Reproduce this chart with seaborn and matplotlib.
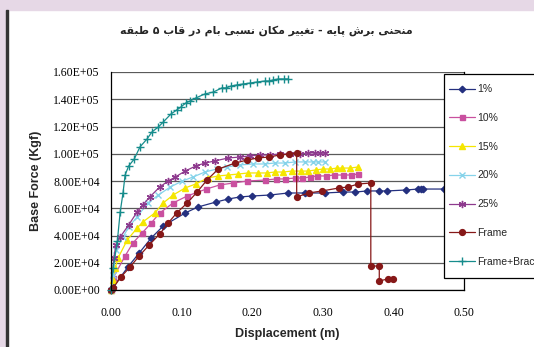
import matplotlib
matplotlib.use('Agg')

import pandas as pd
import matplotlib.pyplot as plt
import matplotlib.patches as mpatches
import seaborn as sns

# values
x_1 = [0, 0.003, 0.024, 0.040, 0.057, 0.074, 0.105, 0.123, 0.149, 0.166, 0.183, 0.200, 0.225, 0.251,
       0.275, 0.303, 0.329, 0.346, 0.363, 0.380, 0.391, 0.418, 0.435, 0.439, 0.442, 0.472, 0.492]
y_1 = [0, 2200, 16900, 27200, 38200, 47000, 56500, 60900, 64600, 66800, 68300, 69000, 69700, 71200,
       71200, 71200, 71900, 71900, 72700, 72700, 72700, 73400, 74100, 74100, 74100, 74100, 74900]

x_10 = [0, 0.003, 0.020, 0.031, 0.044, 0.057, 0.069, 0.088, 0.108, 0.135, 0.154, 0.173, 0.193, 0.218,
        0.234, 0.246, 0.261, 0.271, 0.282, 0.292, 0.305, 0.316, 0.329, 0.340, 0.350]
y_10 = [0, 8800, 25000, 34500, 41800, 49200, 56500, 63900, 69000, 74100, 77100, 78500, 80000, 80700,
        81500, 81500, 82200, 82200, 82900, 83700, 83700, 84400, 84400, 84400, 85100]

x_15 = [0, 0.003, 0.006, 0.010, 0.023, 0.037, 0.045, 0.062, 0.074, 0.088, 0.105, 0.120, 0.137, 0.152,
        0.166, 0.180, 0.194, 0.208, 0.221, 0.232, 0.244, 0.256, 0.269, 0.279, 0.290, 0.300, 0.310,
        0.320, 0.327, 0.339, 0.350]
y_15 = [0, 7300, 16100, 23500, 36700, 45500, 49900, 56500, 63900, 69700, 74900, 77800, 82200, 83700,
        84400, 85100, 85900, 85900, 85900, 86600, 86600, 87300, 87300, 87300, 88100, 88800, 88800,
        89500, 89500, 89500, 90300]

x_20 = [0, 0.003, 0.007, 0.017, 0.025, 0.037, 0.052, 0.067, 0.084, 0.101, 0.116, 0.133, 0.150, 0.164,
        0.183, 0.201, 0.218, 0.232, 0.246, 0.261, 0.275, 0.286, 0.293, 0.303]
y_20 = [0, 11000, 29400, 38900, 46200, 53600, 63900, 69700, 75600, 80000, 82900, 86600, 88800, 90300,
        91800, 92500, 92500, 93200, 93200, 94000, 94000, 94000, 94000, 94000]

x_25 = [0, 0.004, 0.007, 0.013, 0.025, 0.037, 0.045, 0.055, 0.069, 0.081, 0.091, 0.105, 0.120, 0.133,
        0.147, 0.166, 0.183, 0.197, 0.211, 0.225, 0.239, 0.254, 0.268, 0.279, 0.289, 0.296, 0.303]
y_25 = [0, 23500, 33000, 38900, 47700, 57300, 62400, 68300, 75600, 80000, 82900, 87300, 91000, 93200,
        94700, 96900, 97600, 98400, 99100, 99100, 99800, 99800, 99800, 100600, 100600, 100600, 100600]

x_frame = [0, 0.003, 0.014, 0.027, 0.040, 0.054, 0.069, 0.081, 0.093, 0.108, 0.122, 0.136, 0.152, 0.176,
           0.193, 0.208, 0.224, 0.239, 0.252, 0.263, 0.263, 0.280, 0.299, 0.323, 0.336, 0.350, 0.368,
           0.368, 0.380, 0.380, 0.392, 0.399]
y_frame = [0, 1500, 9500, 16900, 25000, 33000, 41100, 49200, 56500, 63900, 71900, 80700, 88800, 93200,
           95400, 96900, 97600, 99100, 99800, 100600, 68300, 71200, 72700, 74900, 75600, 77800, 78500,
           17600, 17600, 6600, 8100, 8100]

x_brace = [0, 0.003, 0.009, 0.013, 0.017, 0.020, 0.025, 0.033, 0.041, 0.051, 0.058, 0.067, 0.074, 0.085,
           0.093, 0.099, 0.106, 0.112, 0.120, 0.133, 0.145, 0.157, 0.163, 0.170, 0.178, 0.187, 0.197,
           0.207, 0.218, 0.224, 0.229, 0.237, 0.245, 0.251]
y_brace = [0, 16100, 36000, 57200, 71200, 84400, 91000, 96200, 105000, 110800, 116000, 119600, 123300,
           129200, 132100, 134300, 137300, 138700, 140900, 143900, 145300, 148300, 148300, 149700,
           150500, 151200, 151900, 152700, 153400, 153400, 154100, 154900, 154900, 154900]

x_ticks = [0.0, 0.1, 0.2, 0.3, 0.4, 0.5]
y_ticks = [0, 20000, 40000, 60000, 80000, 100000, 120000, 140000, 160000]

title = 'منحنی برش پایه - تغییر مکان نسبی بام در قاب ۵ طبقه'

# (name, x, y, colour, marker, size)
series = [
    ('1%', x_1, y_1, '#24307f', 'D', 3.3),
    ('10%', x_10, y_10, '#c9509f', 's', 3.6),
    ('15%', x_15, y_15, '#f5e600', '^', 4.6),
    ('20%', x_20, y_20, '#86d3ea', 'x', 4.2),
    ('25%', x_25, y_25, '#8e3a8e', (6, 2, 0), 5.2),
    ('Frame', x_frame, y_frame, '#861818', 'o', 4.2),
    ('Frame+Brace', x_brace, y_brace, '#168c8c', '+', 5.5),
]

# matplotlib does no arabic shaping, so pick the joined glyph forms by hand
forms = {
    'ا': ('\uFE8D', '\uFE8E', None, None),
    'ب': ('\uFE8F', '\uFE90', '\uFE91', '\uFE92'),
    'پ': ('\uFB56', '\uFB57', '\uFB58', '\uFB59'),
    'ت': ('\uFE95', '\uFE96', '\uFE97', '\uFE98'),
    'ح': ('\uFEA1', '\uFEA2', '\uFEA3', '\uFEA4'),
    'د': ('\uFEA9', '\uFEAA', None, None),
    'ر': ('\uFEAD', '\uFEAE', None, None),
    'س': ('\uFEB1', '\uFEB2', '\uFEB3', '\uFEB4'),
    'ش': ('\uFEB5', '\uFEB6', '\uFEB7', '\uFEB8'),
    'ط': ('\uFEC1', '\uFEC2', '\uFEC3', '\uFEC4'),
    'غ': ('\uFECD', '\uFECE', '\uFECF', '\uFED0'),
    'ق': ('\uFED5', '\uFED6', '\uFED7', '\uFED8'),
    'ک': ('\uFB8E', '\uFB8F', '\uFB90', '\uFB91'),
    'م': ('\uFEE1', '\uFEE2', '\uFEE3', '\uFEE4'),
    'ن': ('\uFEE5', '\uFEE6', '\uFEE7', '\uFEE8'),
    'ه': ('\uFEE9', '\uFEEA', '\uFEEB', '\uFEEC'),
    'ی': ('\uFBFC', '\uFBFD', '\uFBFE', '\uFBFF'),
}


def shape_rtl(text):
    out = []
    for i, ch in enumerate(text):
        if ch not in forms:
            out.append(ch)
            continue
        prev = text[i - 1] if i > 0 else ''
        nxt = text[i + 1] if i + 1 < len(text) else ''
        join_prev = prev in forms and forms[prev][2] is not None
        join_next = nxt in forms and forms[ch][2] is not None
        iso, fin, ini, med = forms[ch]
        if join_prev and join_next:
            out.append(med)
        elif join_prev:
            out.append(fin)
        elif join_next:
            out.append(ini)
        else:
            out.append(iso)
    return ''.join(out)[::-1]


sns.set_style('white')
plt.rcParams['font.family'] = ['Liberation Serif', 'DejaVu Sans']

fig = plt.figure(figsize=(5.34, 3.47), dpi=100)

# lavender frame strips of the original screenshot
fig.patches.append(mpatches.Rectangle((0, 0), 6 / 534, 1, transform=fig.transFigure,
                                      color='#e6d8e6', zorder=0))
fig.patches.append(mpatches.Rectangle((0, 1 - 10 / 347), 1, 10 / 347, transform=fig.transFigure,
                                      color='#e6d8e6', zorder=0))
fig.patches.append(mpatches.Rectangle((6 / 534, 0), 2 / 534, 1 - 10 / 347, transform=fig.transFigure,
                                      color='#333333', zorder=0))

ax = fig.add_axes([111 / 534, 57 / 347, 353 / 534, 218 / 347])

for name, xs, ys, col, mk, ms in series:
    df = pd.DataFrame({'Displacement': xs, 'Force': ys})
    sns.lineplot(data=df, x='Displacement', y='Force', ax=ax, sort=False, estimator=None,
                 color=col, marker=mk, markersize=ms, markeredgecolor=col, markerfacecolor=col,
                 markeredgewidth=1.0, linewidth=0.9, label=name, clip_on=False)

ax.set_xlim(0, 0.5)
ax.set_ylim(0, 160000)
ax.set_xticks(x_ticks)
ax.set_yticks(y_ticks)
ax.set_xticklabels(['%.2f' % v for v in x_ticks])
ax.set_yticklabels(['%.2E' % v for v in y_ticks])
ax.tick_params(axis='both', direction='out', length=4, width=0.8, color='black', labelsize=8.5,
               labelcolor='black')
ax.tick_params(axis='x', pad=8)
ax.tick_params(axis='y', pad=4)
ax.yaxis.grid(True, color='#5a5a5a', linewidth=0.9)
ax.xaxis.grid(False)
for side in ['left', 'bottom', 'right', 'top']:
    ax.spines[side].set_visible(True)
    ax.spines[side].set_color('black')
    ax.spines[side].set_linewidth(0.9)
ax.spines['top'].set_visible(False)

ax.set_xlabel('Displacement (m)', family='Liberation Sans', fontweight='bold', fontsize=9, labelpad=7)
ax.set_ylabel('Base Force (Kgf)', family='Liberation Sans', fontweight='bold', fontsize=9, labelpad=8)

fig.text(266 / 534, 1 - 31 / 347, shape_rtl(title), ha='center', va='center',
         family='DejaVu Sans', fontweight='bold', fontsize=7.8)

# legend box drawn separately so its top padding can be larger than its side padding
ax.add_patch(mpatches.Rectangle((444 / 534, 1 - 278 / 347), 100 / 534, 204 / 347,
                                transform=fig.transFigure, clip_on=False, zorder=9,
                                facecolor='white', edgecolor='black', linewidth=0.9))
leg = ax.legend(loc='upper left', bbox_to_anchor=(444 / 534, 1 - 79 / 347), bbox_transform=fig.transFigure,
                frameon=False, borderaxespad=0, borderpad=0.5,
                labelspacing=1.8, handlelength=2.5, handletextpad=0.2,
                prop={'family': 'Liberation Sans', 'size': 7.5})
leg.set_zorder(10)

fig.savefig('out.png', dpi=100)
